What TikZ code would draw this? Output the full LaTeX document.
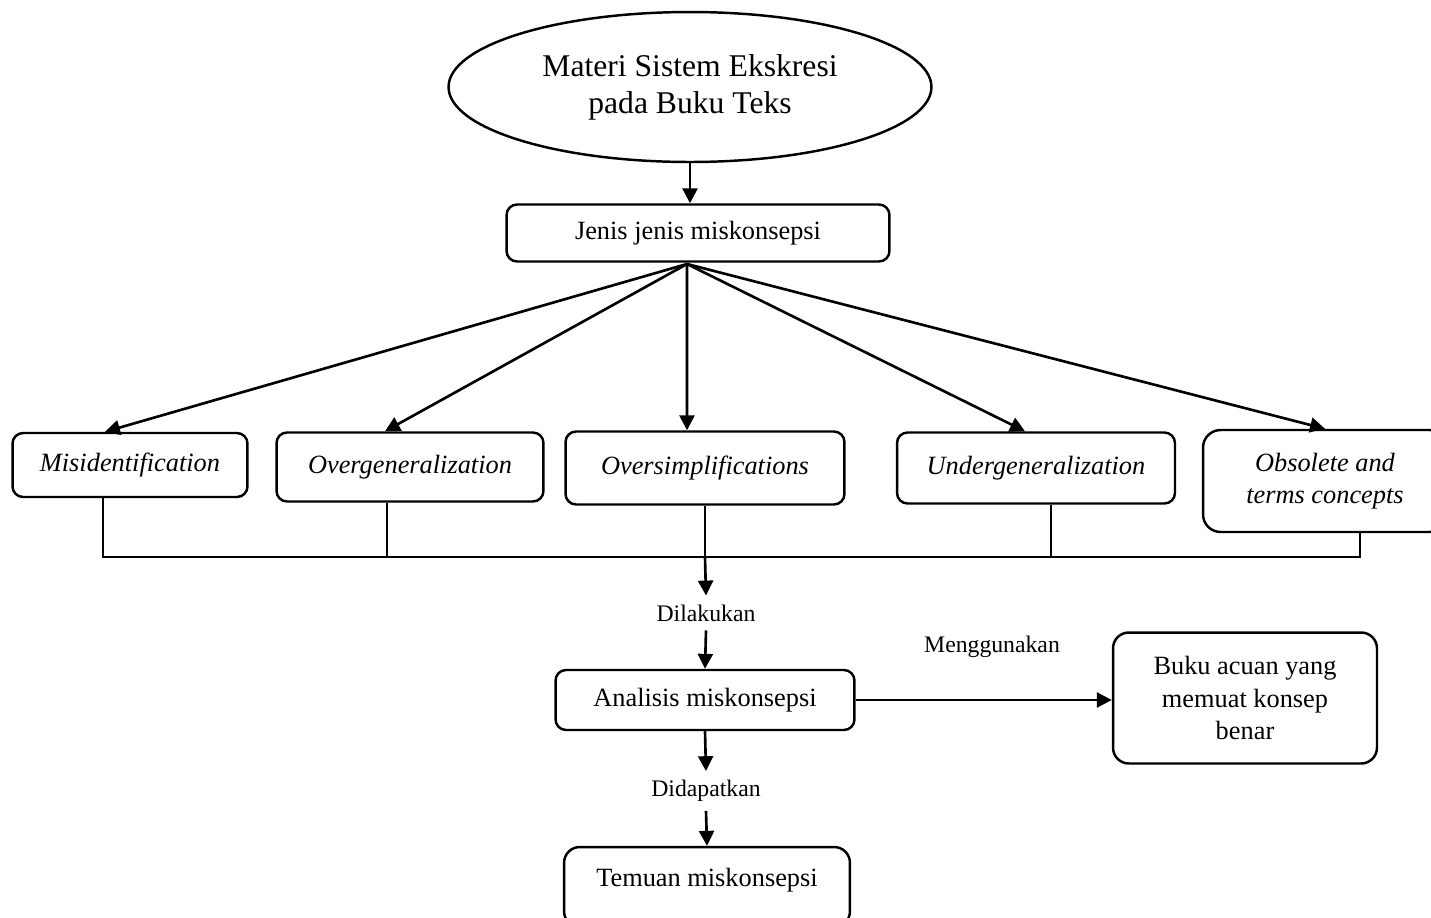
\documentclass[tikz,border=0pt]{standalone}
\usepackage{fontspec}
\setmainfont{Liberation Serif}
\usetikzlibrary{shapes.geometric,arrows.meta}
\begin{document}
\begin{tikzpicture}[x=0.02cm,y=-0.02cm,
    box/.style={shape=rectangle, rounded corners=6pt, draw, line width=1.4pt, align=center, inner sep=0pt, font=\fontsize{15}{18.5}\selectfont},
    kind/.style={box, font=\fontsize{15}{18.5}\selectfont\itshape},
    lbl/.style={font=\fontsize{13.5}{16}\selectfont, inner xsep=1pt, inner ysep=5pt},
    arr/.style={line width=1.5pt, -{Triangle[length=8.5pt,width=8.5pt]}},
    bar/.style={line width=0.6pt}]
    \useasboundingbox (0,0) rectangle (1431,917);
    \node[shape=ellipse, draw, line width=1.4pt, minimum width=9.66cm, minimum height=3cm, align=center, font=\fontsize{18}{21}\selectfont] (materi) at (690,87) {Materi Sistem Ekskresi\\pada Buku Teks};
    \node[box, minimum width=7.66cm, minimum height=1.14cm] (jenis) at (698,233) {Jenis jenis miskonsepsi};
    \node[kind, minimum width=4.7cm, minimum height=1.28cm] (misid) at (130,465) {Misidentification};
    \node[kind, minimum width=5.34cm, minimum height=1.38cm] (overgen) at (410,467) {Overgeneralization};
    \node[kind, minimum width=5.58cm, minimum height=1.46cm] (oversimp) at (705,468) {Oversimplifications};
    \node[kind, minimum width=5.56cm, minimum height=1.42cm] (undergen) at (1036,468) {Undergeneralization};
    \node[kind, rounded corners=10pt, minimum width=4.88cm, minimum height=2.04cm] (obsolete) at (1325,481) {Obsolete and\\terms concepts};
    \node[lbl] (dilakukan) at (706,613) {Dilakukan};
    \node[box, minimum width=5.98cm, minimum height=1.2cm] (analisis) at (705,700) {Analisis miskonsepsi};
    \node[lbl] (menggunakan) at (992,647) {Menggunakan};
    \node[box, rounded corners=9pt, minimum width=5.28cm, minimum height=2.62cm] (buku) at (1245,698) {Buku acuan yang\\memuat konsep\\benar};
    \node[lbl] (didapatkan) at (706,791) {Didapatkan};
    \node[box, rounded corners=9pt, minimum width=5.72cm, minimum height=1.6cm, text depth=11pt] (temuan) at (707,887) {Temuan miskonsepsi};
    \coordinate (hub) at (687,264);
    \coordinate (join) at (705,557);
    % from the top
    \draw[arr] (materi.south) -- (materi.south |- jenis.north);
    \draw[arr] (hub) -- ([xshift=-0.5cm]misid.north);
    \draw[arr] (hub) -- ([xshift=-0.5cm]overgen.north);
    \draw[arr] (hub) -- ([xshift=-0.36cm]oversimp.north);
    \draw[arr] (hub) -- ([xshift=-0.22cm]undergen.north);
    \draw[arr] (hub) -- (obsolete.north);
    % collecting bar
    \draw[bar] ([xshift=-0.54cm]misid.south) |- ([xshift=0.7cm]obsolete.south |- join) -- ([xshift=0.7cm]obsolete.south);
    \draw[bar] ([xshift=-0.46cm]overgen.south) -- ([xshift=-0.46cm]overgen.south |- join);
    \draw[bar] (oversimp.south) -- (join);
    \draw[bar] ([xshift=0.3cm]undergen.south) -- ([xshift=0.3cm]undergen.south |- join);
    % down to the findings
    \draw[arr] (join) -- (dilakukan.north);
    \draw[arr] (dilakukan.south) -- (analisis.north);
    \draw[arr] (analisis.east) -- (analisis.east -| buku.west);
    \draw[arr] (analisis.south) -- (didapatkan.north);
    \draw[arr] (didapatkan.south) -- (temuan.north);
\end{tikzpicture}
\end{document}
